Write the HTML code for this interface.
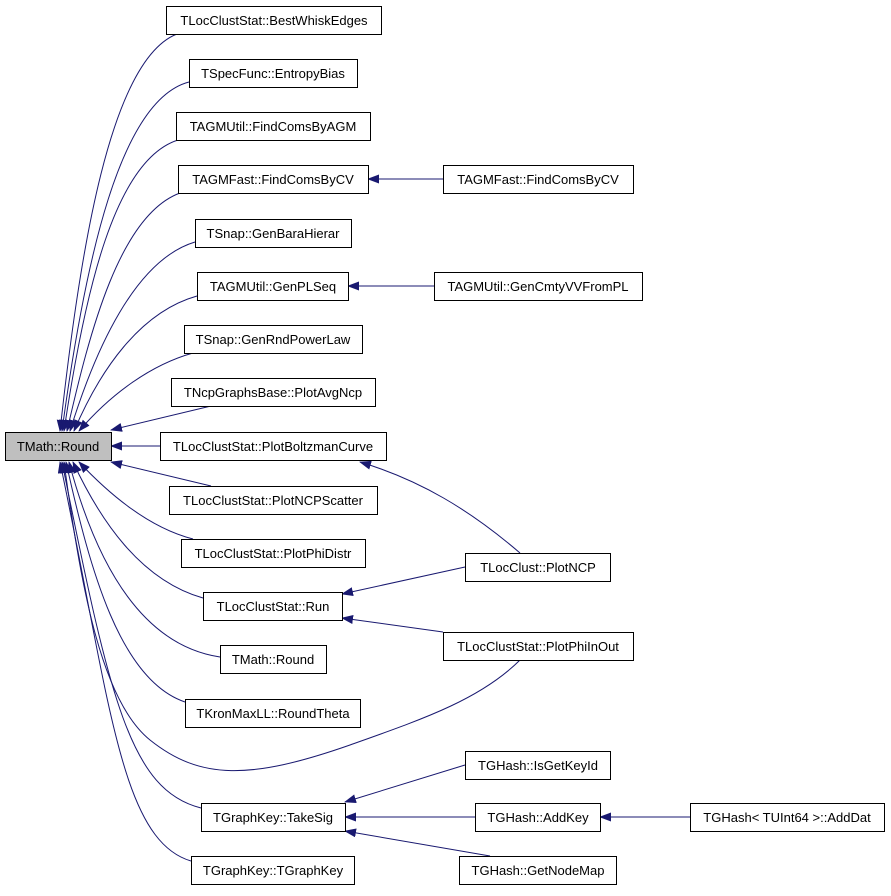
<!DOCTYPE html>
<html><head><meta charset="utf-8"><style>
body{margin:0;background:#fff}
svg text{font-family:"Liberation Sans",sans-serif;font-size:13px;text-anchor:middle}
</style></head><body>
<svg width="891" height="891" xmlns="http://www.w3.org/2000/svg">
<defs><marker id="a" markerWidth="12" markerHeight="9" refX="11" refY="4.5" orient="auto" markerUnits="userSpaceOnUse"><path d="M0,0 L12,4.5 L0,9 z" fill="#191970"/></marker></defs>
<g fill="none" stroke="#191970" stroke-width="1" marker-end="url(#a)">
<path d="M177,34 C110,60 80,250 60,431"/>
<path d="M189,82 C120,100 85,260 62,431"/>
<path d="M178,140 C115,160 85,290 64,431"/>
<path d="M180,193 C120,215 90,330 67,431"/>
<path d="M195,242 C135,260 95,350 70,431"/>
<path d="M197,296 C140,312 100,370 74,431"/>
<path d="M193,353 C150,365 110,395 79,431"/>
<path d="M211,406 L111,430"/>
<path d="M160,446 L111,446"/>
<path d="M211,486 L111,462"/>
<path d="M193,539 C150,528 110,495 79,462"/>
<path d="M203,598 C140,580 100,520 73,462"/>
<path d="M220,657 C140,645 95,560 69,462"/>
<path d="M185,702 C120,680 90,570 66,462"/>
<path d="M520,660 C480,700 420,720 350,745 C250,780 200,780 150,740 C100,700 80,580 64,462"/>
<path d="M201,808 C130,790 110,700 62,462"/>
<path d="M191,861 C120,840 110,700 60,462"/>
<path d="M443,179 L368,179"/>
<path d="M434,286 L348,286"/>
<path d="M520,553 C470,510 420,480 360,462"/>
<path d="M465,567 L342,594"/>
<path d="M443,632 L342,618"/>
<path d="M465,765 L345,802"/>
<path d="M475,817 L345,817"/>
<path d="M490,856 L345,831"/>
<path d="M690,817 L600,817"/>
</g>
<g stroke="#000" stroke-width="1" fill="#fff">
<rect x="5.5" y="432.5" width="106" height="28" fill="#bfbfbf"/>
<rect x="166.5" y="6.5" width="215" height="28"/>
<rect x="189.5" y="59.5" width="168" height="28"/>
<rect x="176.5" y="112.5" width="194" height="28"/>
<rect x="178.5" y="165.5" width="190" height="28"/>
<rect x="195.5" y="219.5" width="156" height="28"/>
<rect x="197.5" y="272.5" width="151" height="28"/>
<rect x="184.5" y="325.5" width="178" height="28"/>
<rect x="171.5" y="378.5" width="204" height="28"/>
<rect x="160.5" y="432.5" width="226" height="28"/>
<rect x="169.5" y="486.5" width="208" height="28"/>
<rect x="181.5" y="539.5" width="184" height="28"/>
<rect x="203.5" y="592.5" width="139" height="28"/>
<rect x="220.5" y="645.5" width="106" height="28"/>
<rect x="185.5" y="699.5" width="175" height="28"/>
<rect x="201.5" y="803.5" width="144" height="28"/>
<rect x="191.5" y="856.5" width="163" height="28"/>
<rect x="443.5" y="165.5" width="190" height="28"/>
<rect x="434.5" y="272.5" width="208" height="28"/>
<rect x="465.5" y="553.5" width="145" height="28"/>
<rect x="443.5" y="632.5" width="190" height="28"/>
<rect x="465.5" y="751.5" width="145" height="28"/>
<rect x="475.5" y="803.5" width="125" height="28"/>
<rect x="459.5" y="856.5" width="157" height="28"/>
<rect x="690.5" y="803.5" width="194" height="28"/>
</g>
<g fill="#000">
<text x="58" y="451">TMath::Round</text>
<text x="274" y="25">TLocClustStat::BestWhiskEdges</text>
<text x="273" y="78">TSpecFunc::EntropyBias</text>
<text x="273" y="131">TAGMUtil::FindComsByAGM</text>
<text x="273" y="184">TAGMFast::FindComsByCV</text>
<text x="273" y="238">TSnap::GenBaraHierar</text>
<text x="273" y="291">TAGMUtil::GenPLSeq</text>
<text x="273" y="344">TSnap::GenRndPowerLaw</text>
<text x="273" y="397">TNcpGraphsBase::PlotAvgNcp</text>
<text x="273" y="451">TLocClustStat::PlotBoltzmanCurve</text>
<text x="273" y="505">TLocClustStat::PlotNCPScatter</text>
<text x="273" y="558">TLocClustStat::PlotPhiDistr</text>
<text x="273" y="611">TLocClustStat::Run</text>
<text x="273" y="664">TMath::Round</text>
<text x="273" y="718">TKronMaxLL::RoundTheta</text>
<text x="273" y="822">TGraphKey::TakeSig</text>
<text x="273" y="875">TGraphKey::TGraphKey</text>
<text x="538" y="184">TAGMFast::FindComsByCV</text>
<text x="538" y="291">TAGMUtil::GenCmtyVVFromPL</text>
<text x="538" y="572">TLocClust::PlotNCP</text>
<text x="538" y="651">TLocClustStat::PlotPhiInOut</text>
<text x="538" y="770">TGHash::IsGetKeyId</text>
<text x="538" y="822">TGHash::AddKey</text>
<text x="538" y="875">TGHash::GetNodeMap</text>
<text x="787" y="822">TGHash&lt; TUInt64 &gt;::AddDat</text>
</g>
</svg>
</body></html>
